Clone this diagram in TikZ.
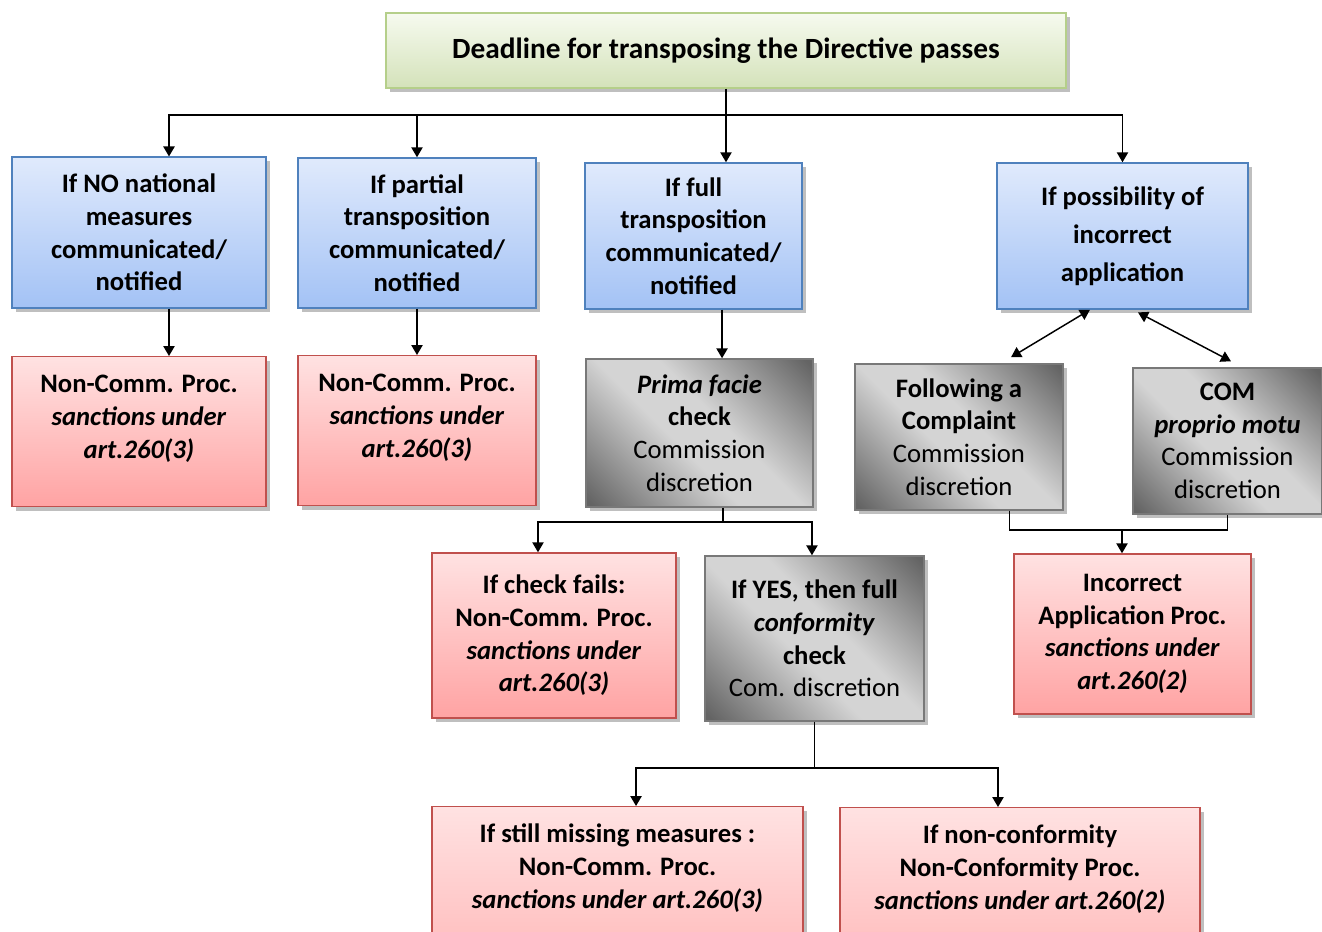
\documentclass[tikz,border=0pt]{standalone}
\usepackage{fontspec}
\setmainfont{Carlito}
\usepackage{xcolor}
\usepackage{tikz}
\usetikzlibrary{arrows.meta, shadows, calc}
\definecolor{BlueTop}{RGB}{224,234,252}
\definecolor{BlueBot}{RGB}{163,194,245}
\definecolor{BlueLine}{RGB}{79,129,189}
\definecolor{RedTop}{RGB}{255,226,226}
\definecolor{RedBot}{RGB}{255,163,163}
\definecolor{RedLine}{RGB}{192,80,77}
\definecolor{GreenTop}{RGB}{246,250,239}
\definecolor{GreenBot}{RGB}{212,226,186}
\definecolor{GreenLine}{RGB}{181,207,138}
\definecolor{GreyLine}{RGB}{120,120,120}
\definecolor{GreyDark}{RGB}{100,100,100}
\definecolor{GreyLight}{RGB}{212,212,212}
\pgfdeclarehorizontalshading{greyglow}{100bp}{color(0bp)=(GreyDark); color(16bp)=(GreyDark); color(44bp)=(GreyLight); color(56bp)=(GreyLight); color(84bp)=(GreyDark); color(100bp)=(GreyDark)}

\tikzset{
  box/.style={draw, line width=1.1pt, align=center, inner sep=2pt,
    drop shadow={shadow xshift=3pt, shadow yshift=-3pt, fill=black!45, opacity=0.55}},
  titlebox/.style={box, draw=GreenLine, top color=GreenTop, bottom color=GreenBot,
    font=\bfseries\fontsize{22}{26}\selectfont},
  bluebox/.style={box, draw=BlueLine, top color=BlueTop, bottom color=BlueBot,
    font=\bfseries\fontsize{20}{24.5}\selectfont},
  redbox/.style={box, draw=RedLine, top color=RedTop, bottom color=RedBot,
    font=\bfseries\fontsize{20}{24.5}\selectfont},
  greybox/.style={box, draw=GreyLine, shade, shading=greyglow, shading angle=45,
    font=\fontsize{20}{24.5}\selectfont},
  topred/.style={redbox, anchor=north, text height=62pt, inner ysep=14pt},
  wire/.style={line width=1.1pt},
  arr/.style={wire, -{Triangle[length=7.5pt,width=8.5pt]}},
  dblarr/.style={wire, {Triangle[length=7.5pt,width=8.5pt]}-{Triangle[length=7.5pt,width=8.5pt]}}
}

\begin{document}
\begin{tikzpicture}[x=0.75pt,y=-0.75pt]
  \useasboundingbox (0,0) rectangle (1322,932);
  \fill[white] (0,0) rectangle (1322,932);

  % top
  \node[titlebox, minimum width=510pt, minimum height=56pt] (deadline) at (726,50.5)
    {Deadline for transposing the Directive passes};

  % first row
  \node[bluebox, minimum width=190.5pt, minimum height=113pt] (nomeas) at (139,232.5)
    {If NO national\\measures\\communicated/\\notified};
  \node[bluebox, minimum width=178.5pt, minimum height=112.5pt] (partial) at (417,233)
    {If partial\\transposition\\communicated/\\notified};
  \node[bluebox, minimum width=162.75pt, minimum height=109.5pt] (fullt) at (693.5,236)
    {If full\\transposition\\communicated/\\notified};
  \node[bluebox, minimum width=188.25pt, minimum height=109.5pt,
    font=\bfseries\fontsize{20}{28.5}\selectfont] (incorr) at (1122.5,236)
    {If possibility of\\incorrect\\application};

  % second row
  \node[topred, text depth=22.5pt, minimum width=190.5pt] (noncomm1) at (139,356)
    {Non-Comm. Proc.\\\textit{sanctions under}\\\textit{art.260(3)}};
  \node[topred, text depth=22.5pt, minimum width=178.5pt] (noncomm2) at (417,355)
    {Non-Comm. Proc.\\\textit{sanctions under}\\\textit{art.260(3)}};
  \node[greybox, minimum width=170.25pt, minimum height=111pt] (prima) at (699.5,433)
    {\textbf{\textit{Prima facie}}\\\textbf{check}\\Commission\\discretion};
  \node[greybox, minimum width=156pt, minimum height=109.5pt] (complaint) at (959,437)
    {\textbf{Following a}\\\textbf{Complaint}\\Commission\\discretion};
  \node[greybox, minimum width=141.75pt, minimum height=109.5pt] (com) at (1227.5,441)
    {\textbf{COM}\\\textbf{\textit{proprio motu}}\\Commission\\discretion};

  % third row
  \node[redbox, minimum width=183pt, minimum height=123.75pt] (checkfail) at (554,635.5)
    {If check fails:\\Non-Comm. Proc.\\\textit{sanctions under}\\\textit{art.260(3)}};
  \node[greybox, minimum width=164.25pt, minimum height=123.75pt] (yes) at (814.5,638.5)
    {\textbf{If YES, then full}\\\textbf{\textit{conformity}}\\\textbf{check}\\Com. discretion};
  \node[redbox, minimum width=177.75pt, minimum height=120pt] (incproc) at (1132.5,634)
    {Incorrect\\Application Proc.\\\textit{sanctions under}\\\textit{art.260(2)}};

  % bottom row
  \node[topred, text depth=100pt, minimum width=278.25pt] (missing) at (617.5,806)
    {If still missing measures :\\Non-Comm. Proc.\\\textit{sanctions under art.260(3)}};
  \node[topred, text depth=100pt, minimum width=270pt] (nonconf) at (1020,807)
    {If non-conformity\\Non-Conformity Proc.\\\textit{sanctions under art.260(2)}};

  % connectors
  \coordinate (hub) at (deadline.south |- 0,115);
  \draw[wire] (deadline.south) -- (hub);
  \draw[arr] (hub) -| ([xshift=22.5pt]nomeas.north);
  \draw[arr] (hub) -| (partial.north);
  \draw[arr] (hub) -- (hub |- fullt.north);
  \draw[arr] (hub) -| (incorr.north);

  \draw[arr] ([xshift=22.5pt]nomeas.south) -- ([xshift=22.5pt]noncomm1.north);
  \draw[arr] (partial.south) -- (noncomm2.north);
  \draw[arr] ([xshift=21.4pt]fullt.south) -- ([xshift=21.4pt]fullt.south |- prima.north);

  \coordinate (fork1) at (723,522);
  \draw[wire] (prima.south -| fork1) -- (fork1);
  \draw[arr] (fork1) -| ([xshift=-12pt]checkfail.north);
  \draw[arr] (fork1) -| ([xshift=-1.9pt]yes.north);

  \coordinate (fork2) at (yes.south |- 0,768);
  \draw[wire] (yes.south) -- (fork2);
  \draw[arr] (fork2) -| ([xshift=13.9pt]missing.north);
  \draw[arr] (fork2) -| ([xshift=-16.5pt]nonconf.north);

  \draw[dblarr] ([xshift=-24.4pt]incorr.south) -- ([xshift=39pt,yshift=4.5pt]complaint.north);
  \draw[dblarr] ([xshift=11.6pt,yshift=-2pt]incorr.south) -- ([xshift=2.6pt,yshift=4.5pt]com.north);

  \coordinate (join) at (1122,530);
  \draw[wire] ([xshift=38pt]complaint.south) |- (join) -| (com.south);
  \draw[arr] (join) -- (join |- incproc.north);
\end{tikzpicture}
\end{document}
